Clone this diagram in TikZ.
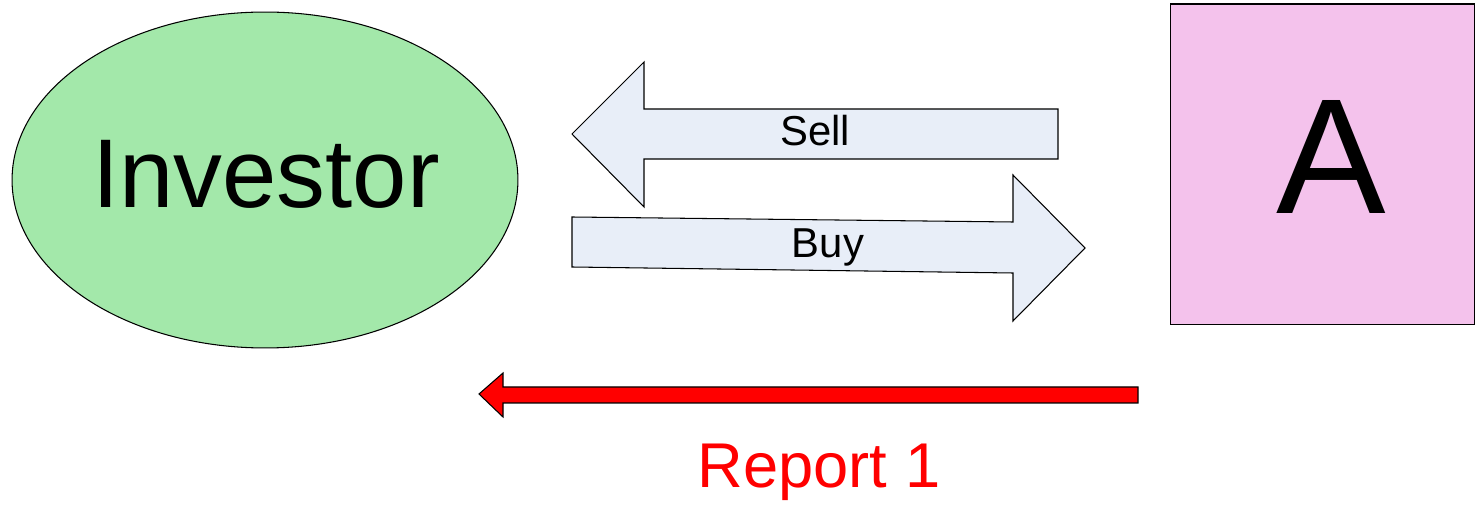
\documentclass[tikz,border=0pt]{standalone}
\usepackage{fontspec}
\setmainfont{Liberation Sans}
\usetikzlibrary{shapes.geometric}
\definecolor{investorgreen}{RGB}{163,232,170}
\definecolor{firmpink}{RGB}{244,194,236}
\definecolor{tradeblue}{RGB}{232,238,248}

\begin{document}
\begin{tikzpicture}[x=0.02cm,y=-0.02cm,
	tradearrow/.style={draw=black,line width=0.6pt,fill=tradeblue,line join=miter},
	reportarrow/.style={draw=black,line width=0.6pt,fill=red},
	tradelabel/.style={font=\fontsize{23.8}{28}\selectfont,inner sep=0pt}]
	 \useasboundingbox (0,0) rectangle (1475,506);
	 \node at (265,180) [ellipse,draw,line width=0.6pt,fill=investorgreen,minimum width=10.12cm,minimum height=6.72cm,inner sep=0pt] (investor) {};
	 \node at (266,174) [inner sep=0pt,font=\fontsize{55.6}{60}\selectfont] (investorname) {Investor};
	 \node at (1322.5,164.5) [rectangle,draw,line width=0.6pt,fill=firmpink,minimum width=6.1cm,minimum height=6.42cm,inner sep=0pt] (firm) {};
	 \node at (1331,157) [inner sep=0pt,font=\fontsize{93.5}{100}\selectfont] (firmname) {A};

	 \draw[tradearrow] (572,134) -- (644,62) -- (644,109) -- (1058,109) -- (1058,159) -- (644,159) -- (644,207) -- cycle;
	 \draw[tradearrow] (572,217) -- (1013,222) -- (1013,175) -- (1085,248) -- (1013,321) -- (1013,273) -- (572,267) -- cycle;
	 \draw[reportarrow] (479,394) -- (503,373) -- (503,387) -- (1138,387) -- (1138,403) -- (503,403) -- (503,417) -- cycle;

	 \node at (815,131) [tradelabel] (sell) {Sell};
	 \node at (828,247) [tradelabel] (buy) {Buy};
	 \node at (819,472) [inner sep=0pt,text=red,font=\fontsize{36}{42}\selectfont] (report) {Report 1};
\end{tikzpicture}
\end{document}
